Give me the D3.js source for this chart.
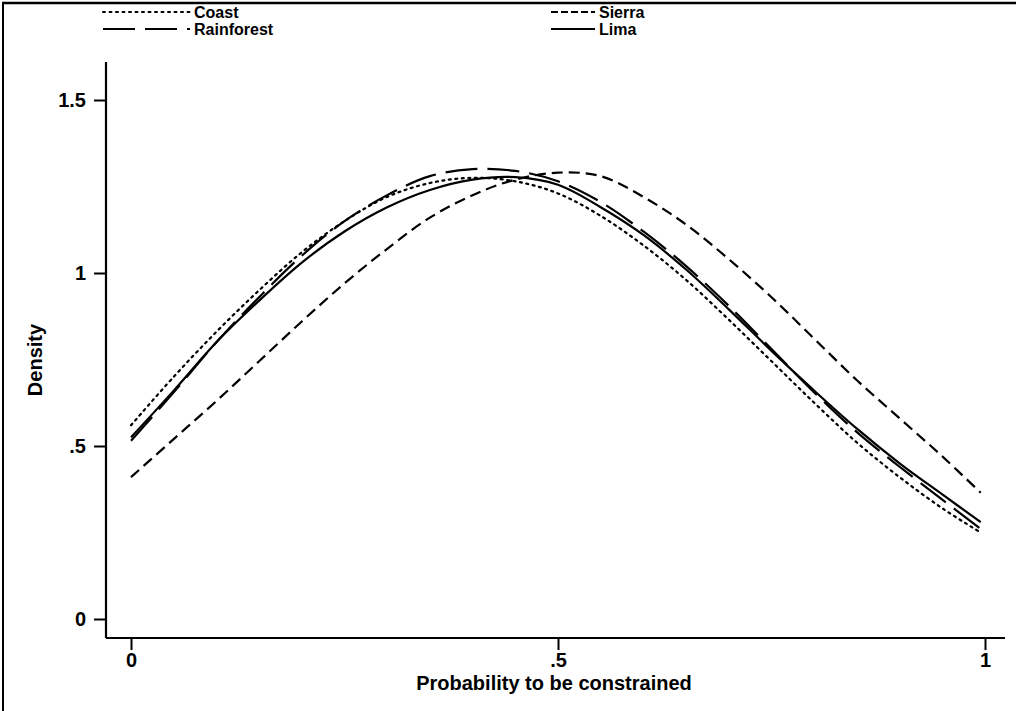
<!DOCTYPE html>
<html>
<head>
<meta charset="utf-8">
<script src="https://cdn.jsdelivr.net/npm/d3@7"></script>
<style>
  body { margin: 0; background: #fff; }
  svg { display: block; font-family: "Liberation Sans", Arial, sans-serif; }
</style>
</head>
<body>
<svg id="chart" width="1016" height="711"></svg>
<script>
// values (kernel density estimates)
var xs = [0, .05, .1, .15, .2, .25, .3, .35, .4, .45, .5, .55, .6, .65, .7, .75, .8, .85, .9, .95, .995]
var coast = [0.56, 0.70, 0.83, 0.95, 1.06, 1.15, 1.22, 1.26, 1.275, 1.265, 1.23, 1.165, 1.08, 0.98, 0.865, 0.745, 0.625, 0.51, 0.41, 0.32, 0.25]
var sierra = [0.41, 0.52, 0.63, 0.745, 0.86, 0.97, 1.07, 1.16, 1.225, 1.27, 1.29, 1.28, 1.22, 1.14, 1.04, 0.93, 0.81, 0.69, 0.58, 0.47, 0.365]
var rainforest = [0.515, 0.655, 0.80, 0.93, 1.05, 1.15, 1.225, 1.28, 1.30, 1.295, 1.265, 1.205, 1.12, 1.02, 0.905, 0.78, 0.655, 0.54, 0.44, 0.345, 0.26]
var lima = [0.525, 0.66, 0.80, 0.92, 1.03, 1.12, 1.19, 1.24, 1.27, 1.277, 1.255, 1.19, 1.11, 1.01, 0.895, 0.775, 0.66, 0.55, 0.45, 0.36, 0.28]

var xTicks = [0, 0.5, 1]
var xTickLabels = ["0", ".5", "1"]
var yTicks = [0, 0.5, 1, 1.5]
var yTickLabels = ["0", ".5", "1", "1.5"]

var series = [
  {name: "Coast", values: coast, dash: "2,4.5", cap: "round"},
  {name: "Sierra", values: sierra, dash: "11,6", cap: "butt"},
  {name: "Rainforest", values: rainforest, dash: "32,10", cap: "butt"},
  {name: "Lima", values: lima, dash: null, cap: "butt"}
]

var svg = d3.select("#chart")

// scanned frame edges
svg.append("line").attr("x1", 2).attr("x2", 1016).attr("y1", 3).attr("y2", 3)
  .attr("stroke", "#000").attr("stroke-width", 2.5)
svg.append("line").attr("x1", 3).attr("x2", 3).attr("y1", 2).attr("y2", 711)
  .attr("stroke", "#000").attr("stroke-width", 2)

var x = d3.scaleLinear().domain([0, 1]).range([131, 985])
var y = d3.scaleLinear().domain([0, 1.5]).range([619, 100])

var axisX = 106, axisY = 638

// y axis
var gy = svg.append("g").attr("transform", "translate(" + axisX + ",0)")
  .call(d3.axisLeft(y).tickValues(yTicks).tickSize(12).tickPadding(8)
    .tickFormat(function(d, i) { return yTickLabels[i] }))
gy.select(".domain").attr("d", "M0,62V" + axisY)
// x axis
var gx = svg.append("g").attr("transform", "translate(0," + axisY + ")")
  .call(d3.axisBottom(x).tickValues(xTicks).tickSize(12).tickPadding(3)
    .tickFormat(function(d, i) { return xTickLabels[i] }))
gx.select(".domain").attr("d", "M" + axisX + ",0H1005")

svg.selectAll(".domain").attr("stroke", "#000").attr("stroke-width", 2.2)
svg.selectAll(".tick line").attr("stroke", "#000").attr("stroke-width", 2)
svg.selectAll(".tick text").attr("fill", "#000")
  .style("font-size", "20px").style("font-weight", "bold")

// axis titles
svg.append("text").attr("x", x(0.5) - 4).attr("y", 690)
  .attr("text-anchor", "middle").style("font-size", "20px").style("font-weight", "bold")
  .text("Probability to be constrained")
svg.append("text").attr("transform", "translate(42,360) rotate(-90)")
  .attr("text-anchor", "middle").style("font-size", "20px").style("font-weight", "bold")
  .text("Density")

// curves
var line = d3.line()
  .x(function(d, i) { return x(xs[i]) })
  .y(function(d) { return y(d) })
  .curve(d3.curveCatmullRom)

svg.append("g").selectAll("path")
  .data(series)
  .enter().append("path")
  .attr("d", function(d) { return line(d.values) })
  .attr("fill", "none")
  .attr("stroke", "#000")
  .attr("stroke-width", 2.2)
  .attr("stroke-linecap", function(d) { return d.cap })
  .attr("stroke-dasharray", function(d) { return d.dash })

// legend, two columns
var legendPos = [[103, 12], [551, 12], [103, 29], [551, 29]]
var sampleW = [87, 44, 87, 44]
var leg = svg.append("g").selectAll("g")
  .data(series)
  .enter().append("g")
  .attr("transform", function(d, i) { return "translate(" + legendPos[i][0] + "," + legendPos[i][1] + ")" })
leg.append("line")
  .attr("x1", 0).attr("x2", function(d, i) { return sampleW[i] }).attr("y1", 0).attr("y2", 0)
  .attr("stroke", "#000").attr("stroke-width", 2)
  .attr("stroke-linecap", function(d) { return d.cap })
  .attr("stroke-dasharray", function(d, i) { return i == 1 ? "7,3" : d.dash })
leg.append("text")
  .attr("x", function(d, i) { return sampleW[i] + 4 }).attr("y", 6)
  .style("font-size", "16px").style("font-weight", "bold")
  .text(function(d) { return d.name })
</script>
</body>
</html>
